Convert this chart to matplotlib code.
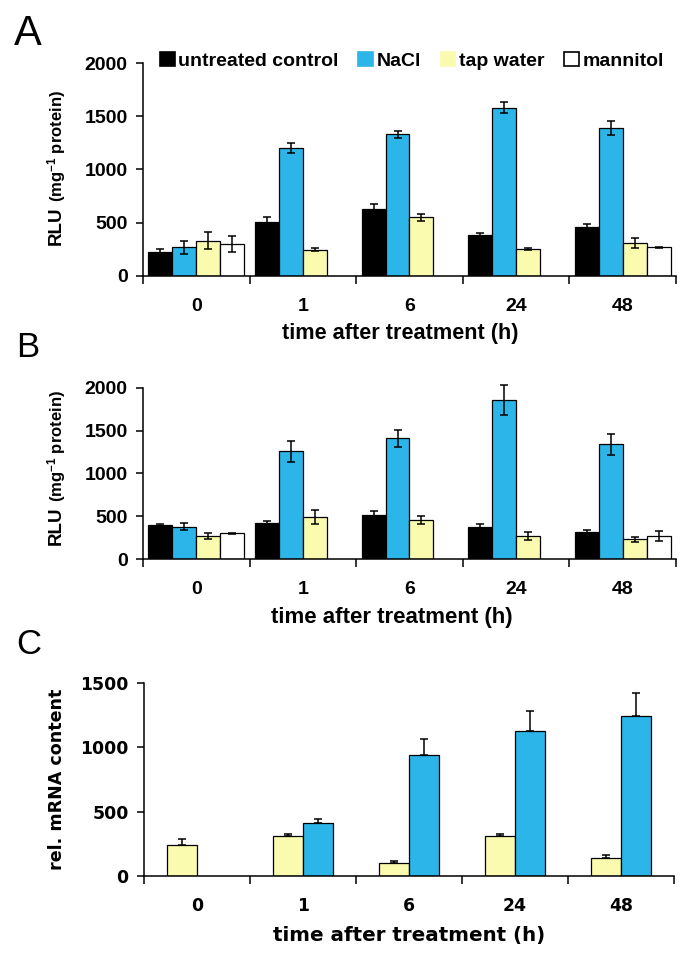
import numpy as np
import matplotlib
matplotlib.use("Agg")
import matplotlib.pyplot as plt
from matplotlib.patches import Patch

plt.rcParams['font.family'] = ['Liberation Sans', 'DejaVu Sans']
plt.rcParams['mathtext.fontset'] = 'custom'
plt.rcParams['mathtext.rm'] = 'Liberation Sans:bold'
plt.rcParams['mathtext.bf'] = 'Liberation Sans:bold'
plt.rcParams['mathtext.default'] = 'bf'

# data
times = ['0', '1', '6', '24', '48']
series = ['untreated control', 'NaCl', 'tap water', 'mannitol']
colors = ['black', '#2bb5e8', '#fbfbb0', 'white']

# panel A (RLU per mg protein)
a_control = [225, 510, 630, 385, 460]
a_control_err = [25, 40, 50, 15, 25]
a_nacl = [270, 1200, 1330, 1580, 1390]
a_nacl_err = [60, 45, 35, 50, 65]
a_tap = [330, 245, 550, 255, 310]
a_tap_err = [80, 15, 30, 8, 45]
a_mannitol = [300, np.nan, np.nan, np.nan, 270]
a_mannitol_err = [75, 0, 0, 0, 4]

# panel B
b_control = [400, 420, 520, 380, 320]
b_control_err = [15, 30, 40, 35, 20]
b_nacl = [380, 1260, 1410, 1860, 1340]
b_nacl_err = [40, 125, 95, 175, 120]
b_tap = [270, 490, 460, 270, 230]
b_tap_err = [35, 80, 45, 45, 30]
b_mannitol = [300, np.nan, np.nan, np.nan, 270]
b_mannitol_err = [8, 0, 0, 0, 60]

# panel C (rel. mRNA content)
c_tap = [240, 315, 105, 310, 140]
c_tap_err = [45, 10, 10, 20, 25]
c_nacl = [np.nan, 415, 940, 1130, 1245]
c_nacl_err = [0, 30, 125, 150, 180]

fig = plt.figure(figsize=(6.85, 9.68), dpi=100)
axA = fig.add_axes([0.2088, 0.7149, 0.778, 0.2200])
axB = fig.add_axes([0.2088, 0.4225, 0.778, 0.1767])
axC = fig.add_axes([0.2102, 0.0950, 0.7737, 0.1994])

x = np.arange(len(times)) + 0.5


def style_axis(ax, ymax, step, tick_font, tick_size, xpad):
    ax.set_xlim(0, len(times))
    ax.set_ylim(0, ymax)
    for s in ['top', 'right']:
        ax.spines[s].set_visible(False)
    for s in ['left', 'bottom']:
        ax.spines[s].set_linewidth(1.1)
    ax.set_yticks(np.arange(0, ymax + 1, step))
    ax.set_xticks(np.arange(len(times) + 1))
    ax.set_xticklabels([])
    ax.set_xticks(x, minor=True)
    ax.set_xticklabels(times, minor=True)
    ax.tick_params(axis='x', which='major', length=6, width=1.1, direction='out')
    ax.tick_params(axis='x', which='minor', length=0, pad=xpad)
    ax.tick_params(axis='y', length=5, width=1.1, direction='out', pad=6)
    for lab in ax.get_yticklabels() + ax.get_xticklabels(minor=True):
        lab.set_family(tick_font)
        lab.set_fontweight('bold')
        lab.set_fontsize(tick_size)


def four_bars(ax, vals, errs):
    w = 0.225
    offs = [-1.5, -0.5, 0.5, 1.5]
    for v, e, c, o in zip(vals, errs, colors, offs):
        ax.bar(x + o * w, v, w, color=c, edgecolor='black', linewidth=0.9, zorder=2)
        ax.errorbar(x + o * w, v, yerr=e, fmt='none', ecolor='black', elinewidth=1.1,
                    capsize=2.8, capthick=1.1, zorder=3, clip_on=False)


four_bars(axA, [a_control, a_nacl, a_tap, a_mannitol],
          [a_control_err, a_nacl_err, a_tap_err, a_mannitol_err])
four_bars(axB, [b_control, b_nacl, b_tap, b_mannitol],
          [b_control_err, b_nacl_err, b_tap_err, b_mannitol_err])
style_axis(axA, 2000, 500, 'Liberation Sans', 14, 16)
style_axis(axB, 2000, 500, 'Liberation Sans', 14, 16)

# panel C: upper error bars only
wc = 0.28
zeros = np.zeros(len(times))
axC.bar(x - wc / 2, c_tap, wc, color=colors[2], edgecolor='black', linewidth=0.9, zorder=2)
axC.bar(x + wc / 2, c_nacl, wc, color=colors[1], edgecolor='black', linewidth=0.9, zorder=2)
axC.errorbar(x - wc / 2, c_tap, yerr=[zeros, c_tap_err], fmt='none', ecolor='black',
             elinewidth=1.1, capsize=2.8, capthick=1.1, zorder=3)
axC.errorbar(x + wc / 2, c_nacl, yerr=[zeros, c_nacl_err], fmt='none', ecolor='black',
             elinewidth=1.1, capsize=2.8, capthick=1.1, zorder=3)
style_axis(axC, 1500, 500, 'DejaVu Sans', 12.4, 15)

# legend
handles = [Patch(facecolor=c, edgecolor='black' if c in ('black', 'white') else c,
                 linewidth=1.2) for c in colors]
fig.legend(handles, series, loc='center left', bbox_to_anchor=(160 / 685, 0.937),
           ncol=4, frameon=False, borderpad=0, borderaxespad=0, handlelength=0.75,
           handleheight=0.75, handletextpad=0.2, columnspacing=1.0,
           prop={'family': 'Liberation Sans', 'weight': 'bold', 'size': 14})

# x labels
fig.text(0.585, 0.655, 'time after treatment (h)', ha='center', va='center',
         fontsize=15.6, fontweight='bold')
fig.text(0.572, 0.3616, 'time after treatment (h)', ha='center', va='center',
         fontsize=16, fontweight='bold')
fig.text(0.597, 0.034, 'time after treatment (h)', ha='center', va='center',
         fontsize=14.3, fontweight='bold', family='DejaVu Sans')

# y labels
for ax, ybot in [(axA, 1 - 245 / 968), (axB, 1 - 545 / 968)]:
    rlu = fig.text(0.082, ybot, 'RLU', rotation=90, ha='center', va='bottom',
                   fontsize=13.5, fontweight='bold')
    ax.annotate(r'(mg$^{-1}$ protein)', xy=(0.5, 1), xycoords=rlu, xytext=(0, 3),
                textcoords='offset points', rotation=90, ha='center', va='bottom',
                fontsize=12, fontweight='bold', annotation_clip=False)
fig.text(0.083, 0.195, 'rel. mRNA content', rotation=90, ha='center', va='center',
         fontsize=12.6, fontweight='bold', family='DejaVu Sans')

# panel letters
fig.text(0.020, 1 - 45 / 968, 'A', fontsize=30, va='baseline', ha='left')
fig.text(0.023, 1 - 357 / 968, 'B', fontsize=25, va='baseline', ha='left')
fig.text(0.023, 1 - 654 / 968, 'C', fontsize=25, va='baseline', ha='left')

fig.savefig('out.png', dpi=100)
